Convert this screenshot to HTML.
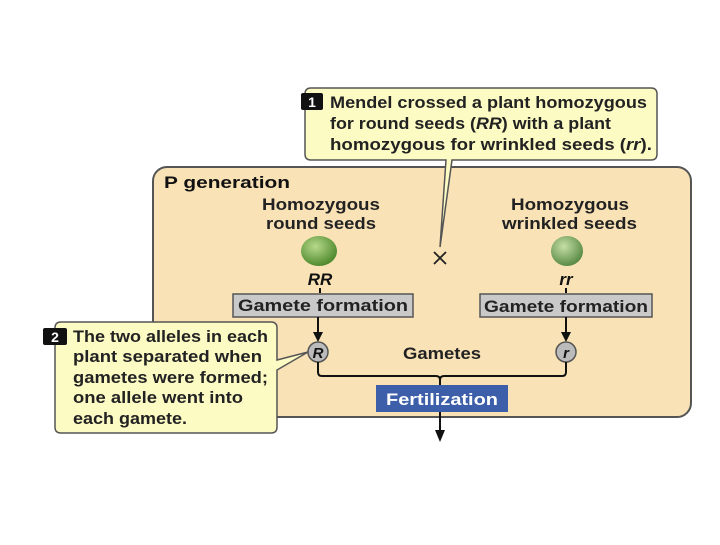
<!DOCTYPE html>
<html><head><style>
body{margin:0;background:#fff;}
svg text{font-family:"Liberation Sans",Arial,sans-serif;font-weight:bold;}
</style></head><body>
<svg width="720" height="540" viewBox="0 0 720 540" xmlns="http://www.w3.org/2000/svg">
<defs>
<radialGradient id="pea1" cx="40%" cy="35%" r="65%"><stop offset="0" stop-color="#b7d98a"/><stop offset="1" stop-color="#4f8a2e"/></radialGradient>
<radialGradient id="pea2" cx="40%" cy="35%" r="65%"><stop offset="0" stop-color="#c6dfa5"/><stop offset="1" stop-color="#5a8b45"/></radialGradient>
</defs>
<rect x="153" y="167" width="538" height="250" rx="14" fill="#f8e2b6" stroke="#555" stroke-width="2"/>
<text x="164" y="188" font-size="17" fill="#111" textLength="126" lengthAdjust="spacingAndGlyphs">P generation</text>
<text x="262" y="210" font-size="17" fill="#222" textLength="118" lengthAdjust="spacingAndGlyphs">Homozygous</text>
<text x="266" y="229" font-size="17" fill="#222" textLength="110" lengthAdjust="spacingAndGlyphs">round seeds</text>
<text x="511" y="210" font-size="17" fill="#222" textLength="118" lengthAdjust="spacingAndGlyphs">Homozygous</text>
<text x="502" y="229" font-size="17" fill="#222" textLength="135" lengthAdjust="spacingAndGlyphs">wrinkled seeds</text>
<ellipse cx="319" cy="251" rx="18" ry="15" fill="url(#pea1)"/>
<ellipse cx="567" cy="251" rx="16" ry="15" fill="url(#pea2)"/>
<path d="M434,252 L446,264 M446,252 L434,264" stroke="#222" stroke-width="1.8"/>
<text x="320" y="285" font-size="17" fill="#111" text-anchor="middle" font-style="italic">RR</text>
<text x="566" y="285" font-size="17" fill="#111" text-anchor="middle" font-style="italic">rr</text>
<line x1="320" y1="288" x2="320" y2="293" stroke="#111" stroke-width="2"/>
<line x1="566" y1="288" x2="566" y2="293" stroke="#111" stroke-width="2"/>
<rect x="233" y="294" width="180" height="23" fill="#c9c9c9" stroke="#555" stroke-width="1.5"/>
<text x="238" y="311" font-size="16.5" fill="#222" textLength="170" lengthAdjust="spacingAndGlyphs">Gamete formation</text>
<rect x="480" y="294" width="172" height="23" fill="#c9c9c9" stroke="#555" stroke-width="1.5"/>
<text x="484" y="312" font-size="16.5" fill="#222" textLength="164" lengthAdjust="spacingAndGlyphs">Gamete formation</text>
<line x1="318" y1="317" x2="318" y2="334" stroke="#111" stroke-width="2"/>
<path d="M313,332 L323,332 L318,342 Z" fill="#111"/>
<line x1="566" y1="317" x2="566" y2="334" stroke="#111" stroke-width="2"/>
<path d="M561,332 L571,332 L566,342 Z" fill="#111"/>
<circle cx="318" cy="352" r="10" fill="#bbb" stroke="#555" stroke-width="1.5"/>
<text x="318" y="358" font-size="15" fill="#111" text-anchor="middle" font-style="italic">R</text>
<circle cx="566" cy="352" r="10" fill="#bbb" stroke="#555" stroke-width="1.5"/>
<text x="566" y="358" font-size="15" fill="#111" text-anchor="middle" font-style="italic">r</text>
<text x="403" y="359" font-size="17" fill="#222" textLength="78" lengthAdjust="spacingAndGlyphs">Gametes</text>
<path d="M318,362 V372 Q318,376 322,376 H436 Q440,376 440,380 Q440,376 444,376 H562 Q566,376 566,372 V362" fill="none" stroke="#111" stroke-width="2"/>
<line x1="440" y1="378" x2="440" y2="386" stroke="#111" stroke-width="2"/>
<rect x="376" y="385" width="132" height="27" fill="#3d5ea8"/>
<text x="386" y="405" font-size="17" fill="#fff" textLength="112" lengthAdjust="spacingAndGlyphs">Fertilization</text>
<line x1="440" y1="412" x2="440" y2="432" stroke="#111" stroke-width="2"/>
<path d="M435,430 L445,430 L440,442 Z" fill="#111"/>
<path d="M311,88 H651 Q657,88 657,94 V154 Q657,160 651,160 H452 L440,247 L446,160 H311 Q305,160 305,154 V94 Q305,88 311,88 Z" fill="#fdfbc4" stroke="#555" stroke-width="1.5"/>
<rect x="301" y="93" width="22" height="17" fill="#111" rx="2"/>
<text x="312" y="107" font-size="14" fill="#fff" text-anchor="middle">1</text>
<text x="330" y="108" font-size="17" fill="#222" textLength="317" lengthAdjust="spacingAndGlyphs">Mendel crossed a plant homozygous</text>
<text x="330" y="129" font-size="17" fill="#222" textLength="281" lengthAdjust="spacingAndGlyphs">for round seeds (<tspan font-style="italic">RR</tspan>) with a plant</text>
<text x="330" y="150" font-size="17" fill="#222" textLength="322" lengthAdjust="spacingAndGlyphs">homozygous for wrinkled seeds (<tspan font-style="italic">rr</tspan>).</text>
<path d="M61,322 H271 Q277,322 277,328 V360 L308,352 L277,370 V427 Q277,433 271,433 H61 Q55,433 55,427 V328 Q55,322 61,322 Z" fill="#fdfbc4" stroke="#555" stroke-width="1.5"/>
<rect x="43" y="328" width="24" height="17" fill="#111" rx="2"/>
<text x="55" y="342" font-size="14" fill="#fff" text-anchor="middle">2</text>
<text x="73" y="342" font-size="17" fill="#222" textLength="195" lengthAdjust="spacingAndGlyphs">The two alleles in each</text>
<text x="73" y="362" font-size="17" fill="#222" textLength="189" lengthAdjust="spacingAndGlyphs">plant separated when</text>
<text x="73" y="383" font-size="17" fill="#222" textLength="195" lengthAdjust="spacingAndGlyphs">gametes were formed;</text>
<text x="73" y="403" font-size="17" fill="#222" textLength="170" lengthAdjust="spacingAndGlyphs">one allele went into</text>
<text x="73" y="424" font-size="17" fill="#222" textLength="114" lengthAdjust="spacingAndGlyphs">each gamete.</text>
</svg>
</body></html>
